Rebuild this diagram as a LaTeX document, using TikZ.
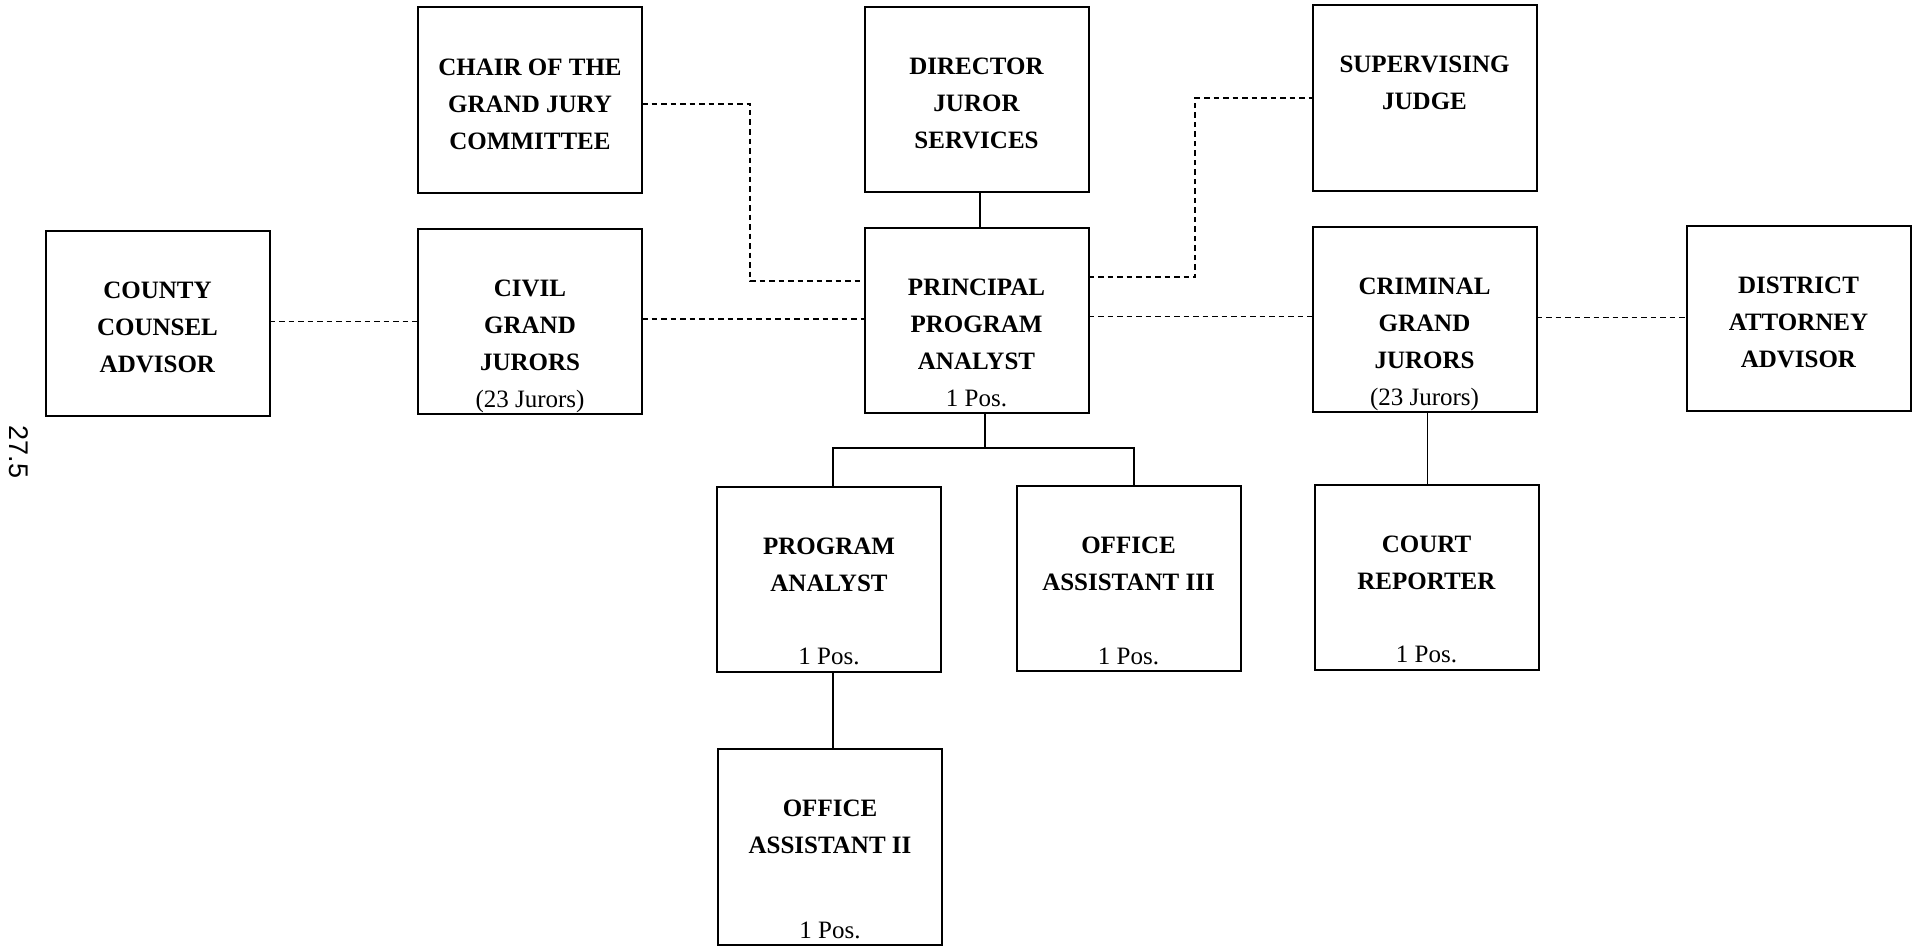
\documentclass[tikz,border=0pt]{standalone}
\usepackage{fontspec}
\setmainfont{Liberation Serif}
\newfontfamily\pagenofont{Liberation Sans}

% Box contents: bold title lines at the top, an optional count line at the bottom
\newcommand{\orgbox}[3][92.5pt]{%
  \begin{minipage}[c][#1][s]{112pt}\centering
  \rule{0pt}{33.75pt}\textbf{#2}\par
  \vfill
  #3\rule[-3.3pt]{0pt}{3.3pt}\par\kern0pt
  \end{minipage}}

\begin{document}
\begin{tikzpicture}[x=0.5pt,y=-0.5pt,
  unit/.style={draw, line width=1pt, inner sep=0pt, outer sep=0pt},
  solidlink/.style={line width=0.7pt},
  dashlink/.style={line width=0.8pt, dash pattern=on 2.75pt off 2pt},
  font=\fontsize{12.5}{18.5}\selectfont]

\useasboundingbox (0,0) rectangle (1914,947);

% top row
\node[unit] (chair)     at (530,100)    {\orgbox{CHAIR OF THE\\GRAND JURY\\COMMITTEE}{}};
\node[unit] (director)  at (976.5,99.5) {\orgbox{DIRECTOR\\JUROR\\SERVICES}{}};
\node[unit] (judge)     at (1424.5,98)  {\orgbox{SUPERVISING\\JUDGE}{}};

% middle row
\node[unit] (county)    at (157.5,323)  {\orgbox{COUNTY\\COUNSEL\\ADVISOR}{}};
\node[unit] (civil)     at (530,321)    {\orgbox{CIVIL\\GRAND\\JURORS}{(23 Jurors)}};
\node[unit] (principal) at (976.5,320.5){\orgbox{PRINCIPAL\\PROGRAM\\ANALYST}{1 Pos.}};
\node[unit] (criminal)  at (1424.5,319) {\orgbox{CRIMINAL\\GRAND\\JURORS}{(23 Jurors)}};
\node[unit] (da)        at (1798.5,318.5){\orgbox{DISTRICT\\ATTORNEY\\ADVISOR}{}};

% staff
\node[unit] (analyst)   at (829,579)    {\orgbox{PROGRAM\\ANALYST}{1 Pos.}};
\node[unit] (oa3)       at (1128.5,578.5){\orgbox{OFFICE\\ASSISTANT III}{1 Pos.}};
\node[unit] (reporter)  at (1426.5,577) {\orgbox{COURT\\REPORTER}{1 Pos.}};
\node[unit] (oa2)       at (830,847)    {\orgbox[98pt]{OFFICE\\ASSISTANT II}{1 Pos.}};

% page number in the margin
\node[font=\pagenofont\fontsize{13.5}{16}\selectfont, rotate=-90] (pageno) at (19,452) {27.5};

% routing points
\coordinate (cjog) at (750,0);
\coordinate (sjog) at (1195,0);
\coordinate (busy) at (0,448);
\coordinate (cnE) at ([yshift=0.75pt]county.east);
\coordinate (cvE) at ([yshift=1pt]civil.east);
\coordinate (prE) at ([yshift=2pt]principal.east);
\coordinate (crE) at ([yshift=0.75pt]criminal.east);
\coordinate (pW) at ([yshift=19.75pt]principal.west);
\coordinate (pE) at ([yshift=21.75pt]principal.east);
\coordinate (pS) at ([xshift=4.25pt]principal.south);
\coordinate (dS) at ([xshift=1.75pt]director.south);
\coordinate (paN) at ([xshift=2pt]analyst.north);
\coordinate (paS) at ([xshift=2pt]analyst.south);
\coordinate (oa3N) at ([xshift=2.75pt]oa3.north);
\coordinate (crS) at ([xshift=1.5pt]criminal.south);

% advisory (dashed) links
\draw[dashlink] (cnE) -- (cnE -| civil.west);
\draw[dashlink] (cvE) -- (cvE -| principal.west);
\draw[dashlink] (prE) -- (prE -| criminal.west);
\draw[dashlink] (crE) -- (crE -| da.west);
\draw[dashlink] ([yshift=-2pt]chair.east) -| (cjog |- pW) -- (pW);
\draw[dashlink] (pE) -| (sjog |- judge.west) -- (judge.west);

% reporting (solid) links
\draw[solidlink] (dS) -- (dS |- principal.north);
\draw[solidlink] (pS) -- (pS |- busy);
\draw[solidlink] (paN) |- (oa3N |- busy) -- (oa3N);
\draw[solidlink] (paS) -- (paS |- oa2.north);
\draw[solidlink] (crS) -- (crS |- reporter.north);

\end{tikzpicture}
\end{document}
